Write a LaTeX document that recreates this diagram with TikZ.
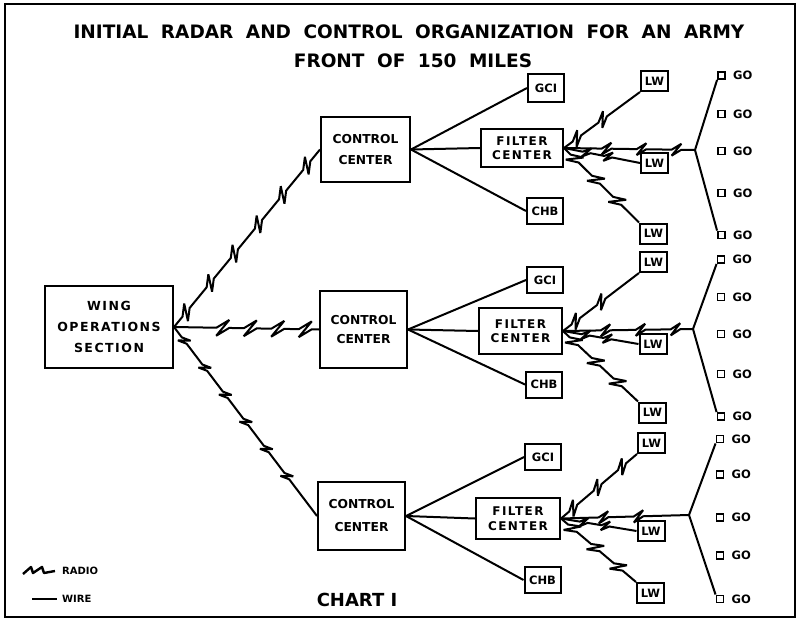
\documentclass[tikz,border=0pt]{standalone}
\usepackage{fontspec}
\setmainfont{DejaVu Sans}
\newfontfamily\spaced{DejaVu Sans}[LetterSpace=12]
\usetikzlibrary{decorations}
\pgfdeclaredecoration{bolt}{initial}{%
  \state{initial}[width=\pgfdecorationsegmentlength]{%
    \pgfpathlineto{\pgfpoint{0.5*\pgfdecorationsegmentlength-0.8*\pgfdecorationsegmentamplitude}{0pt}}%
    \pgfpathlineto{\pgfpoint{0.5*\pgfdecorationsegmentlength+0.8*\pgfdecorationsegmentamplitude}{\pgfdecorationsegmentamplitude}}%
    \pgfpathlineto{\pgfpoint{0.5*\pgfdecorationsegmentlength-0.8*\pgfdecorationsegmentamplitude}{-\pgfdecorationsegmentamplitude}}%
    \pgfpathlineto{\pgfpoint{0.5*\pgfdecorationsegmentlength+0.8*\pgfdecorationsegmentamplitude}{0pt}}%
    \pgfpathlineto{\pgfpoint{\pgfdecorationsegmentlength}{0pt}}%
  }%
  \state{final}{\pgfpathlineto{\pgfpointdecoratedpathlast}}%
}
\newcommand\ws{\hspace{12.5pt}}
\begin{document}
\begin{tikzpicture}[x=1pt,y=-1pt,
  box/.style={draw, line width=2pt, inner sep=0pt, align=center},
  bigbox/.style={box, font=\fontsize{12.3}{21}\selectfont\bfseries},
  fcbox/.style={box, font=\fontsize{12}{14.5}\selectfont\spaced\bfseries},
  smbox/.style={box, font=\fontsize{11.5}{12}\selectfont\bfseries, minimum width=36pt, minimum height=26pt},
  lwbox/.style={box, font=\fontsize{11.5}{12}\selectfont\bfseries, minimum width=27pt, minimum height=20pt},
  gosq/.style={draw, line width=1.9pt, minimum size=7pt, inner sep=0pt,
    label={[font=\fontsize{11.5}{12}\selectfont\bfseries, inner sep=0pt, label distance=7pt]right:GO}},
  wire/.style={line width=2pt},
  radio/.style={line width=2pt, line join=miter, miter limit=4, decorate, decoration={bolt, segment length=30pt, amplitude=4pt}},
  ttl/.style={font=\fontsize{18.5}{20}\selectfont\bfseries, inner sep=0pt}
]
\useasboundingbox (0,0) rectangle (798,621);
\draw[line width=2pt] (5,4) rectangle (795,617);

% titles
\node[ttl] (t1) at (409,32) {INITIAL\ws RADAR\ws AND\ws CONTROL\ws ORGANIZATION\ws FOR\ws AN\ws ARMY};
\node[ttl] (t2) at (413,61) {FRONT\ws OF\ws 150\ws MILES};

% main boxes
\node[box, minimum width=128pt, minimum height=82pt, font=\fontsize{12.5}{21}\selectfont\spaced\bfseries] (wos) at (109,327) {WING\\OPERATIONS\\SECTION};
\node[bigbox, minimum width=89pt, minimum height=65pt] (cc1) at (365.5,149.5) {CONTROL\\CENTER};
\node[bigbox, minimum width=87pt, minimum height=77pt, font=\fontsize{12.3}{19}\selectfont\bfseries] (cc2) at (363.5,329.5) {CONTROL\\CENTER};
\node[bigbox, minimum width=87pt, minimum height=68pt, font=\fontsize{12.3}{23}\selectfont\bfseries] (cc3) at (361.5,516) {CONTROL\\CENTER};

\node[fcbox, minimum width=82pt, minimum height=38pt] (fc1) at (522,148) {FILTER\\CENTER};
\node[fcbox, minimum width=83pt, minimum height=46pt] (fc2) at (520.5,331) {FILTER\\CENTER};
\node[fcbox, minimum width=84pt, minimum height=41pt] (fc3) at (518,518.5) {FILTER\\CENTER};

\node[smbox, minimum height=28pt] (gci1) at (546,88) {GCI};
\node[smbox] (chb1) at (545,211) {CHB};
\node[smbox] (gci2) at (545,280) {GCI};
\node[smbox] (chb2) at (544,384.5) {CHB};
\node[smbox] (gci3) at (543,457) {GCI};
\node[smbox] (chb3) at (542.5,580) {CHB};

\node[lwbox] (lw1a) at (654.5,81) {LW};
\node[lwbox] (lw1b) at (654.5,163) {LW};
\node[lwbox] (lw1c) at (653.5,233.5) {LW};
\node[lwbox] (lw2a) at (653.5,262) {LW};
\node[lwbox] (lw2b) at (653,344) {LW};
\node[lwbox] (lw2c) at (652.5,412.5) {LW};
\node[lwbox] (lw3a) at (651.5,443) {LW};
\node[lwbox] (lw3b) at (651,531) {LW};
\node[lwbox] (lw3c) at (650.5,593) {LW};

% GO stations
\node[gosq] (g1a) at (721.5,75.5) {};
\node[gosq] (g1b) at (721.5,114) {};
\node[gosq] (g1c) at (721.5,151) {};
\node[gosq] (g1d) at (721.5,193) {};
\node[gosq] (g1e) at (721.5,235) {};
\node[gosq] (g2a) at (721,259.5) {};
\node[gosq] (g2b) at (721,297) {};
\node[gosq] (g2c) at (721,334) {};
\node[gosq] (g2d) at (721,374) {};
\node[gosq] (g2e) at (721,416.5) {};
\node[gosq] (g3a) at (720,439) {};
\node[gosq] (g3b) at (720,474.5) {};
\node[gosq] (g3c) at (720,517.5) {};
\node[gosq] (g3d) at (720,555.5) {};
\node[gosq] (g3e) at (720,599) {};

\coordinate (j1) at (695,150);
\coordinate (j2) at (693,329);
\coordinate (j3) at (689,515);

% wing ops radio links
\draw[radio, decoration={segment length=38pt, amplitude=7pt}] (wos.east) -- (cc1.west);
\draw[radio, decoration={segment length=27.5pt, amplitude=8pt, pre length=35pt}] (wos.east) -- (cc2.west);
\draw[radio, decoration={segment length=34pt, amplitude=5pt}] (wos.east) -- (cc3.west);

% wires and radio links of each group
\foreach \g in {1,2,3}{
  \draw[wire] (cc\g.east) -- (gci\g.west);
  \draw[wire] (cc\g.east) -- (fc\g.west);
  \draw[wire] (cc\g.east) -- (chb\g.west);
  \draw[wire] (j\g) -- (g\g a.south west);
  \draw[wire] (j\g) -- (g\g e.north west);
  \draw[radio, decoration={segment length=32pt, amplitude=6.5pt}] (fc\g.east) -- (lw\g a.south west);
  \draw[radio, decoration={segment length=35pt, amplitude=6pt, pre length=25pt}] (fc\g.east) -- (j\g);
  \draw[radio, decoration={segment length=22pt, amplitude=5pt, pre length=12pt}] (fc\g.east) -- (lw\g b.west);
  \draw[radio, decoration={segment length=30pt, amplitude=7pt}] (fc\g.east) -- (lw\g c.north west);
}

% legend
\coordinate (r0) at (23,574);
\draw[line width=2.4pt, line join=round] (r0) -- ++(8,-7) -- ++(2,6) -- ++(9,-6) -- ++(2,6) -- ++(11,-2);
\node[font=\fontsize{10}{12}\selectfont\bfseries, anchor=west, inner sep=0pt] (rl) at (62,571) {RADIO};
\coordinate (w0) at (32,599);
\coordinate (w1) at (57,599);
\draw[wire] (w0) -- (w1);
\node[font=\fontsize{10}{12}\selectfont\bfseries, anchor=west, inner sep=0pt] (wl) at (62,599) {WIRE};

\node[font=\fontsize{18}{20}\selectfont\bfseries, inner sep=0pt] (chart) at (357,600) {CHART I};
\end{tikzpicture}
\end{document}
